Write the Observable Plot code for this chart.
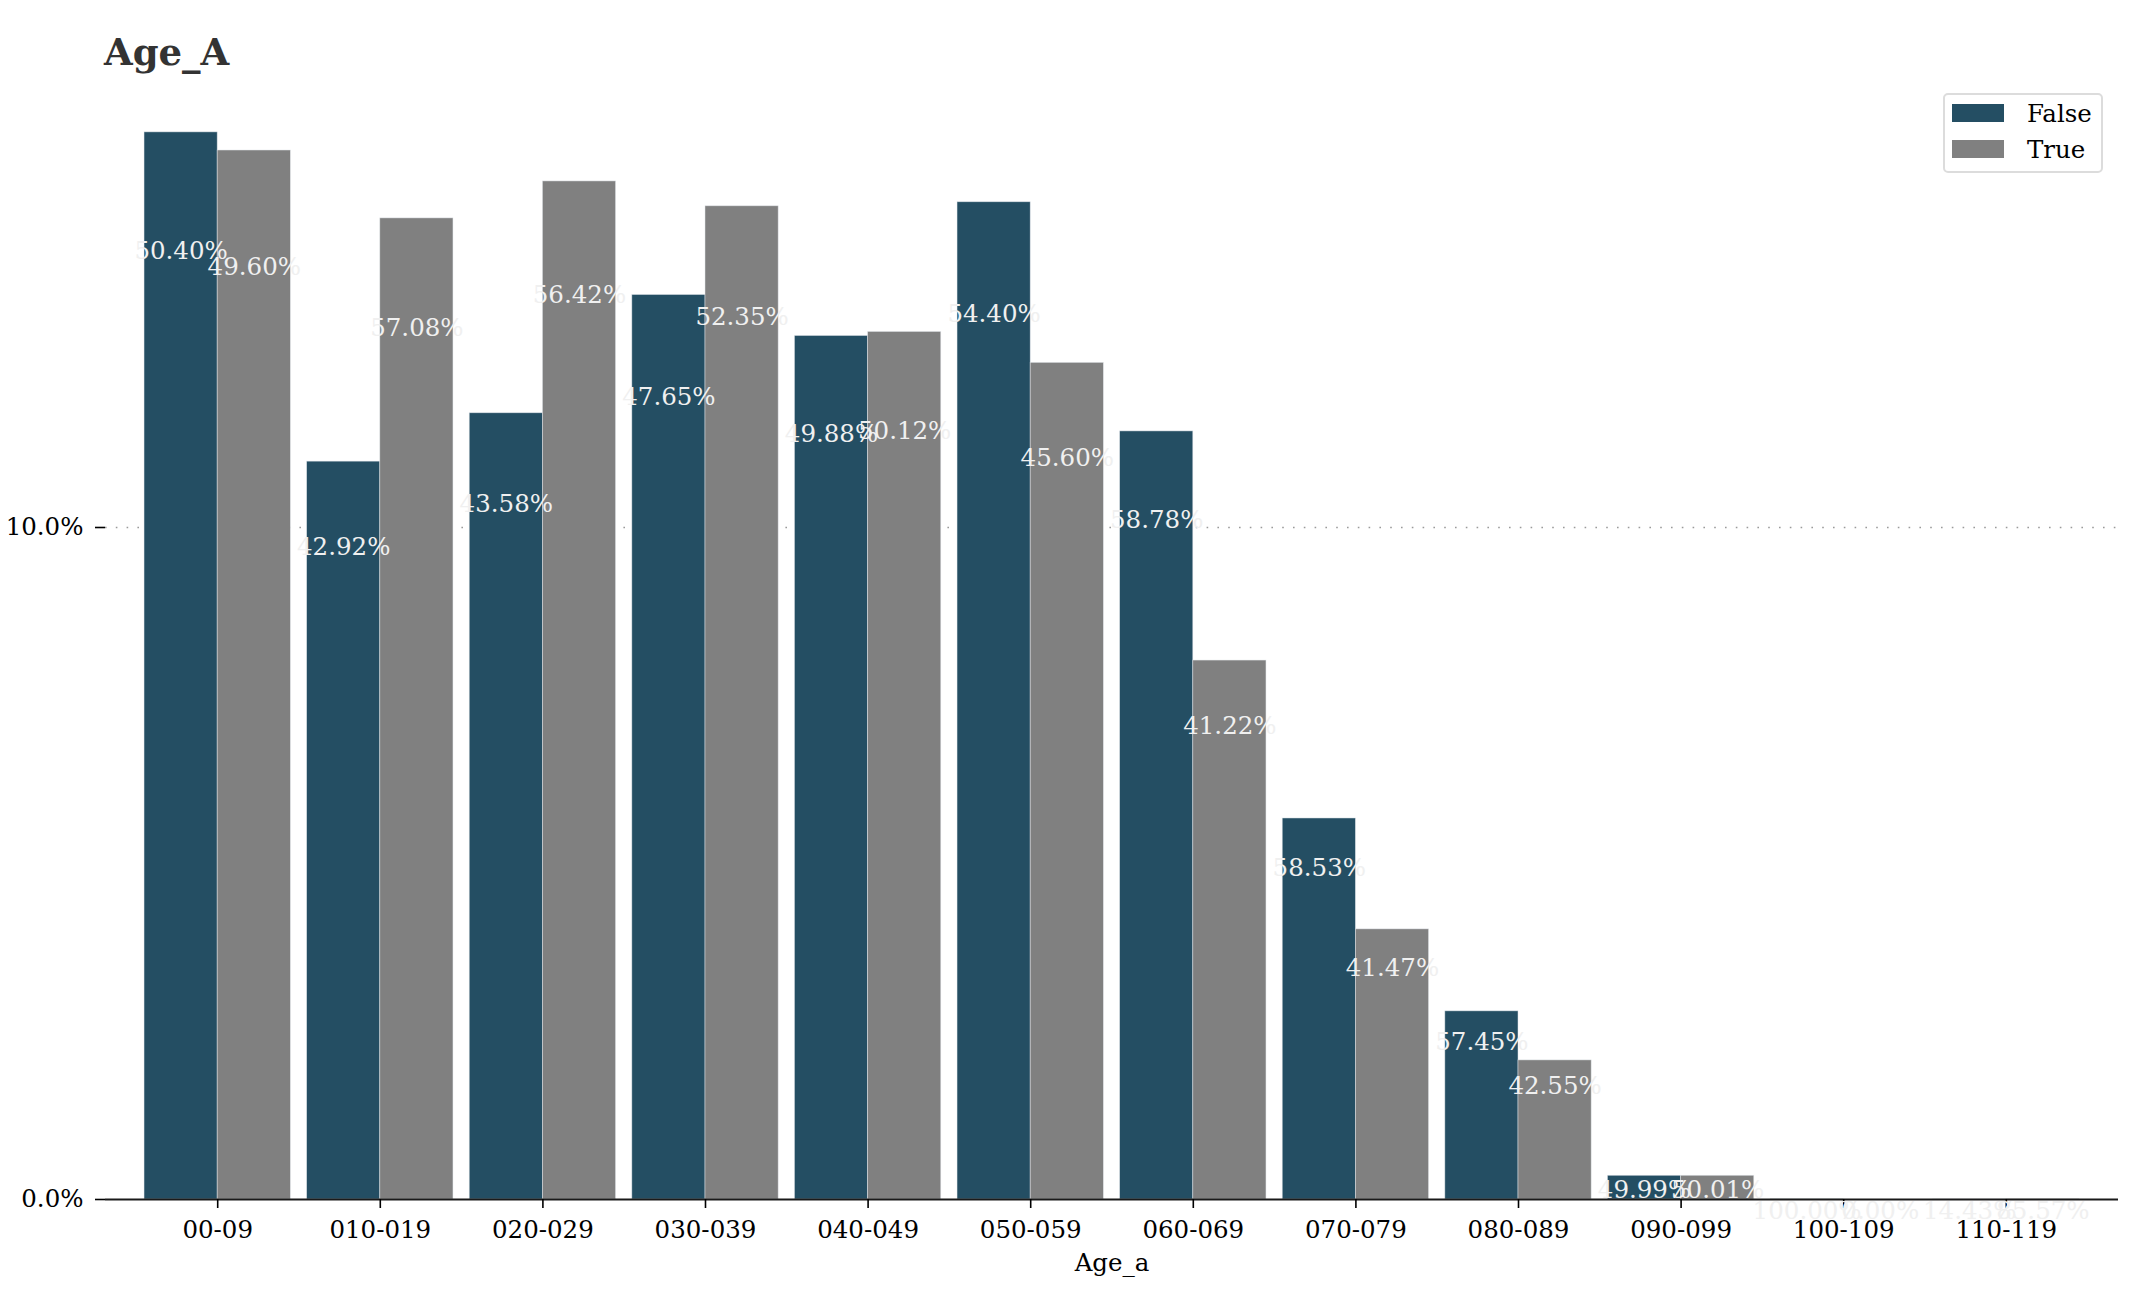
<!DOCTYPE html>
<html>
<head>
<meta charset="utf-8">
<script src="https://cdn.jsdelivr.net/npm/d3@7"></script>
<script src="https://cdn.jsdelivr.net/npm/@observablehq/plot@0.6"></script>
<style>
  html, body { margin: 0; padding: 0; background: white; }
  #wrap { position: relative; width: 2147px; height: 1309px; font-family: 'DejaVu Serif', serif; }
  #title { position: absolute; left: 104px; top: 34px; font-size: 37px; line-height: 37px; font-weight: bold; color: #333; white-space: nowrap; }
  #legend { position: absolute; left: 1943px; top: 93px; width: 156px; height: 76px; border: 2px solid #dcdcdc; border-radius: 5px; background: white; }
  #legend .row { display: flex; align-items: center; height: 36px; }
  #legend .sw { width: 52px; height: 18px; margin-left: 7px; margin-right: 23px; }
  #legend .lab { font-size: 24.5px; color: #000; }
</style>
</head>
<body>
<div id="wrap">
  <div id="chart"></div>
  <div id="title"></div>
  <div id="legend"></div>
</div>
<script>
// ---- data ----
const title = "Age_A";
const xLabel = "Age_a";
const ages = ["00-09","010-019","020-029","030-039","040-049","050-059","060-069","070-079","080-089","090-099","100-109","110-119"];
const seriesNames = ["False", "True"];
const seriesColors = ["#244e63", "#808080"];
// share of each class (percent of class total) per age group = bar heights
const falseShare = [15.88, 10.98, 11.70, 13.46, 12.85, 14.84, 11.43, 5.67, 2.80, 0.353, 0.002, 0.0005];
const trueShare  = [15.61, 14.60, 15.15, 14.78, 12.91, 12.45, 8.02, 4.02, 2.07, 0.353, 0.0, 0.003];
// within-age-group proportion = bar labels
const falsePct = [50.40, 42.92, 43.58, 47.65, 49.88, 54.40, 58.78, 58.53, 57.45, 49.99, 100.00, 14.43];
const truePct  = [49.60, 57.08, 56.42, 52.35, 50.12, 45.60, 41.22, 41.47, 42.55, 50.01, 0.00, 85.57];
const yTicks = [0, 10];

// ---- table ----
const barW = 0.45;
const rows = ages.flatMap((age, i) => [
  {i, age, series: "False", share: falseShare[i], pct: falsePct[i]},
  {i, age, series: "True",  share: trueShare[i],  pct: truePct[i]}
]);
const off = d => (d.series === "False" ? -1 : 1);

const fs = 24.5;
const chart = Plot.plot({
  width: 2147,
  height: 1309,
  marginLeft: 105,
  marginRight: 29,
  marginBottom: 110,
  marginTop: 1309 - 110 - 17 * 67.2,
  x: {type: "linear", domain: [-0.69, ages.length - 1 + 0.69]},
  y: {domain: [0, 17]},
  color: {domain: seriesNames, range: seriesColors},
  style: {fontFamily: "'DejaVu Serif', serif", fontSize: fs + "px", color: "#000", background: "white"},
  marks: [
    Plot.ruleY([10], {stroke: "#9a9a9a", strokeWidth: 1.6, strokeDasharray: "1.6,9.2"}),
    Plot.rectY(rows, {
      x1: d => d.i + (d.series === "False" ? -barW : 0),
      x2: d => d.i + (d.series === "False" ? 0 : barW),
      y: "share",
      fill: "series",
      stroke: "#e4e8ec",
      strokeWidth: 0.7,
      strokeOpacity: 0.7
    }),
    Plot.ruleY([0], {stroke: "#1a1a1a", strokeWidth: 2}),
    Plot.axisX({ticks: d3.range(ages.length), tickFormat: i => ages[i], tickSize: 9, tickPadding: 12, label: null, strokeWidth: 1.6, fontSize: fs}),
    Plot.axisY({ticks: yTicks, tickFormat: d => d.toFixed(1) + "%", tickSize: 10, tickPadding: 12, label: null, strokeWidth: 1.6, fontSize: fs}),
    Plot.text(rows, {
      x: d => d.i + off(d) * barW / 2,
      y: d => d.share * 0.9,
      text: d => d.pct.toFixed(2) + "%",
      dy: 12,
      lineAnchor: "middle",
      textAnchor: "middle",
      fill: "#f0f0f0",
      fontSize: fs
    }),
    Plot.text([xLabel], {frameAnchor: "bottom", text: d => d, lineAnchor: "top", dy: 54, fontSize: fs, fill: "#000"})
  ]
});
document.getElementById("chart").appendChild(chart);
document.getElementById("title").textContent = title;

const legend = document.getElementById("legend");
seriesNames.forEach((name, k) => {
  const row = document.createElement("div");
  row.className = "row";
  const sw = document.createElement("div");
  sw.className = "sw";
  sw.style.background = seriesColors[k];
  const lab = document.createElement("span");
  lab.className = "lab";
  lab.textContent = name;
  row.appendChild(sw);
  row.appendChild(lab);
  legend.appendChild(row);
});
</script>
</body>
</html>
